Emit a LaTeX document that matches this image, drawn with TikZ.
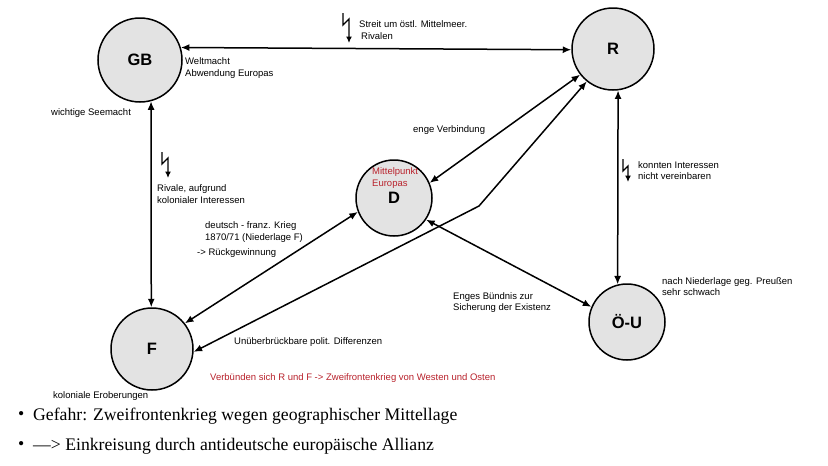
\documentclass[tikz,border=0pt]{standalone}
\usepackage{fontspec}
\setmainfont{Liberation Sans}
\newfontfamily\seriffont{Liberation Serif}
\usetikzlibrary{arrows.meta}
\definecolor{circfill}{RGB}{227,227,227}
\definecolor{labred}{RGB}{185,35,45}
\begin{document}
\begin{tikzpicture}[x=1pt,y=-1pt,
  state/.style={circle,draw,line width=1.5pt,fill=circfill,inner sep=0pt,font=\fontsize{16.5}{16.5}\selectfont\bfseries},
  conn/.style={line width=1.5pt,{Latex[length=8.5pt,width=7pt]}-{Latex[length=8.5pt,width=7pt]}},
  lbl/.style={anchor=west,align=left,inner sep=0pt,font=\fontsize{9.5}{11.5}\selectfont},
  bolt/.style={line width=1.4pt,-{Latex[length=6.5pt,width=6pt]}},
  bullet/.style={anchor=west,inner sep=0pt,font=\seriffont\fontsize{17.7}{20}\selectfont},
]
\useasboundingbox[fill=white] (0,0) rectangle (828,466);

\node[state,minimum size=84pt] (GB) at (140,60) {GB};
\node[state,minimum size=82pt] (R) at (613,49) {R};
\node[state,minimum size=76pt] (D) at (394,198) {D};
\node[state,minimum size=82pt] (F) at (152,349) {F};
\node[state,minimum size=76pt] (OU) at (627,322) {Ö-U};

\draw[conn] (GB.17) -- (R.181);
\draw[conn] (GB.-75) -- (F.91);
\draw[conn] (R.-83) -- (OU.104);
\draw[conn] (R.218) -- (D.23);
\draw[conn] (F.38) -- (D.201);
\draw[conn] (D.-34) -- (OU.157);
\coordinate (bend) at (479,206);
\draw[conn] (F.-4) -- (bend) -- (R.231);

% lightning symbols
\draw[bolt] (343,13) -- (343,25) -- (349,19) -- (349,43);
\draw[bolt] (162,152) -- (162,164) -- (168,158) -- (168,178);
\draw[bolt] (623,159) -- (623,171) -- (628,166) -- (628,182);

% labels
\node[lbl] (tStreit) at (359,30) {Streit um östl. Mittelmeer.\\\hspace*{2pt}Rivalen};
\node[lbl] (tWelt) at (185,68) {Weltmacht\\Abwendung Europas};
\node[lbl] (tSee) at (51,113) {wichtige Seemacht};
\node[lbl] (tRivale) at (157,194) {Rivale, aufgrund\\kolonialer Interessen};
\node[lbl] (tKrieg) at (205,232) {deutsch - franz. Krieg\\1870/71 (Niederlage F)};
\node[lbl] (tRueck) at (197,253) {-> Rückgewinnung};
\node[lbl] (tEnge) at (413,130) {enge Verbindung};
\node[lbl,text=labred] (tMitte) at (372,178) {Mittelpunkt\\Europas};
\node[lbl] (tKonnten) at (638,170.5) {konnten Interessen\\nicht vereinbaren};
\node[lbl] (tNach) at (662,286.5) {nach Niederlage geg. Preußen\\sehr schwach};
\node[lbl] (tEnges) at (453,302.5) {Enges Bündnis zur\\Sicherung der Existenz};
\node[lbl] (tUnue) at (234,342) {Unüberbrückbare polit. Differenzen};
\node[lbl,text=labred] (tVerb) at (210,378) {Verbünden sich R und F -> Zweifrontenkrieg von Westen und Osten};
\node[lbl] (tKolo) at (53,396) {koloniale Eroberungen};

\node[bullet] (b1) at (18,416) {•};
\node[bullet] (l1) at (33,416) {Gefahr: Zweifrontenkrieg wegen geographischer Mittellage};
\node[bullet] (b2) at (18,446) {•};
\node[bullet] (l2) at (33,446) {—> Einkreisung durch antideutsche europäische Allianz};
\end{tikzpicture}
\end{document}
